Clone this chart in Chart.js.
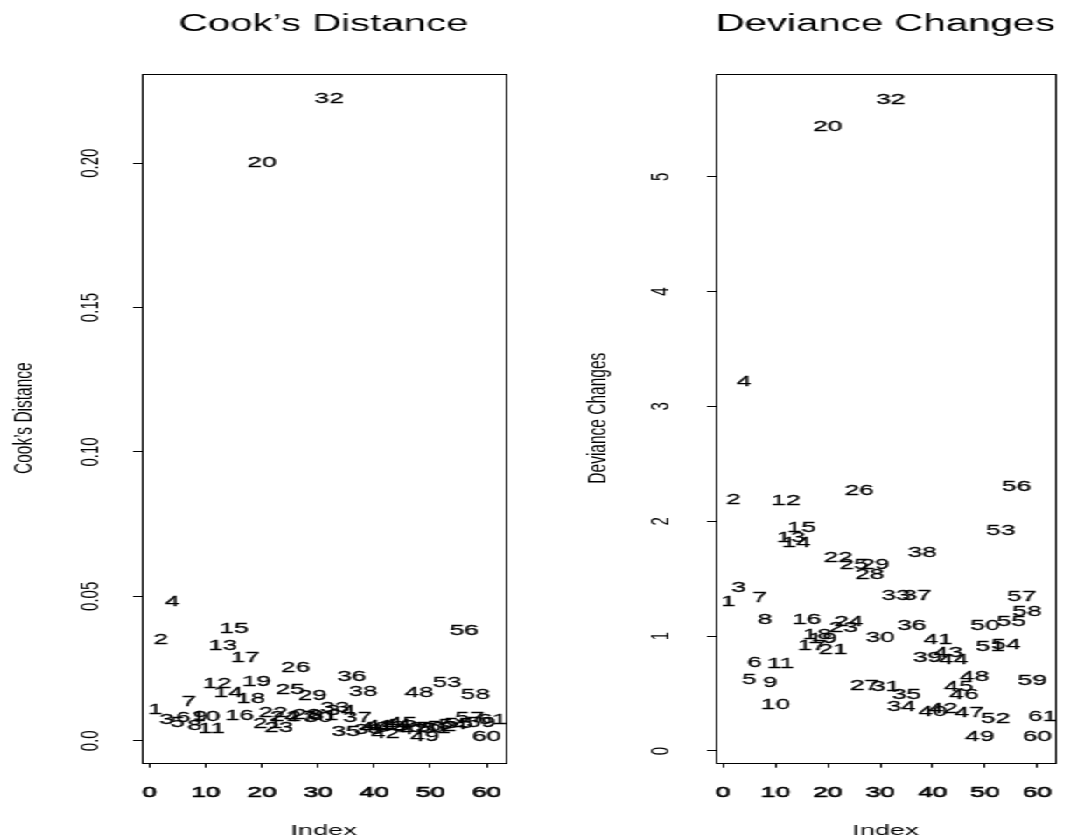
<!DOCTYPE html>
<html>
<head>
<meta charset="utf-8">
<title>Cook's Distance / Deviance Changes</title>
<script src="https://cdn.jsdelivr.net/npm/chart.js@4.4.0/dist/chart.umd.min.js"></script>
<style>
html, body { margin: 0; padding: 0; background: #fff; overflow: hidden; }
/* the original figure is a narrow R plot stretched sideways, so draw narrow and stretch */
#wrap { width: 618px; height: 840px; display: flex; transform: scaleX(1.75); transform-origin: 0 0; }
.panel { position: relative; width: 309px; height: 840px; }
</style>
</head>
<body>
<div id="wrap">
  <div class="panel"><canvas id="cook"></canvas></div>
  <div class="panel"><canvas id="dev"></canvas></div>
</div>
<script>
var obsIndex = [1, 2, 3, 4, 5, 6, 7, 8, 9, 10, 11, 12, 13, 14, 15, 16, 17, 18, 19, 20,
  21, 22, 23, 24, 25, 26, 27, 28, 29, 30, 31, 32, 33, 34, 35, 36, 37, 38, 39, 40,
  41, 42, 43, 44, 45, 46, 47, 48, 49, 50, 51, 52, 53, 54, 55, 56, 57, 58, 59, 60, 61];

var cooksDist = [0.0107, 0.0350, 0.0074, 0.0481, 0.0061, 0.0080, 0.0133, 0.0052, 0.0083, 0.0083,
  0.0040, 0.0197, 0.0330, 0.0165, 0.0388, 0.0086, 0.0288, 0.0145, 0.0205, 0.2002,
  0.0058, 0.0095, 0.0043, 0.0082, 0.0177, 0.0254, 0.0083, 0.0088, 0.0157, 0.0080,
  0.0085, 0.2222, 0.0115, 0.0104, 0.0031, 0.0222, 0.0079, 0.0169, 0.0037, 0.0045,
  0.0050, 0.0025, 0.0048, 0.0055, 0.0062, 0.0045, 0.0038, 0.0167, 0.0012, 0.0045,
  0.0042, 0.0048, 0.0201, 0.0055, 0.0058, 0.0379, 0.0080, 0.0160, 0.0063, 0.0012, 0.0073];

var devChanges = [1.298, 2.183, 1.423, 3.210, 0.623, 0.768, 1.336, 1.139, 0.589, 0.400,
  0.762, 2.174, 1.855, 1.811, 1.945, 1.139, 0.916, 1.009, 0.980, 5.435,
  0.878, 1.684, 1.070, 1.124, 1.617, 2.264, 0.565, 1.536, 1.623, 0.985,
  0.557, 5.668, 1.348, 0.380, 0.487, 1.093, 1.354, 1.724, 0.815, 0.342,
  0.971, 0.363, 0.855, 0.797, 0.554, 0.487, 0.333, 0.646, 0.119, 1.093,
  0.907, 0.284, 1.916, 0.928, 1.125, 2.298, 1.342, 1.209, 0.609, 0.124, 0.293];

var xTicks = [0, 10, 20, 30, 40, 50, 60];
var xTickLabels = ['0', '10', '20', '30', '40', '50', '60'];
var cookTicks = [0, 0.05, 0.10, 0.15, 0.20];
var cookTickLabels = ['0.0', '0.05', '0.10', '0.15', '0.20'];
var devTicks = [0, 1, 2, 3, 4, 5];
var devTickLabels = ['0', '1', '2', '3', '4', '5'];

var FONT = '"Liberation Sans", Arial, Helvetica, sans-serif';
Chart.defaults.font.family = FONT;
Chart.defaults.color = '#000';

// frame round the plot region, like R's box()
var boxPlugin = {
  id: 'plotBox',
  afterDraw: function(chart) {
    var a = chart.chartArea;
    var ctx = chart.ctx;
    ctx.save();
    ctx.strokeStyle = '#000';
    ctx.lineWidth = 1;
    ctx.strokeRect(Math.round(a.left) + 0.5, Math.round(a.top) + 0.5,
      Math.round(a.right - a.left), Math.round(a.bottom - a.top));
    ctx.restore();
  }
};

// each observation is drawn as its index number (text(..., labels = 1:n))
var labelPlugin = {
  id: 'indexLabels',
  afterDatasetsDraw: function(chart) {
    var ctx = chart.ctx;
    var meta = chart.getDatasetMeta(0);
    var pts = chart.data.datasets[0].data;
    ctx.save();
    ctx.font = '15px ' + FONT;
    ctx.fillStyle = '#000';
    ctx.strokeStyle = '#000';
    ctx.lineWidth = 0.3;
    ctx.textAlign = 'center';
    ctx.textBaseline = 'middle';
    meta.data.forEach(function(el, k) {
      ctx.fillText(String(pts[k].x), el.x, el.y);
      ctx.strokeText(String(pts[k].x), el.x, el.y);
    });
    ctx.restore();
  }
};

function makePanel(id, title, yTitle, values, yMin, yMax, yTicks, yTickLabels, boxLeft, padRight, yLabPad, yTitlePad) {
  var pts = obsIndex.map(function(v, k) { return { x: v, y: values[k] }; });
  return new Chart(document.getElementById(id), {
    type: 'scatter',
    data: { datasets: [{ data: pts, pointRadius: 0, pointHoverRadius: 0 }] },
    options: {
      responsive: true,
      maintainAspectRatio: false,
      animation: false,
      events: [],
      layout: { padding: { left: 0, right: padRight, top: 0, bottom: 0 } },
      plugins: {
        legend: { display: false },
        tooltip: { enabled: false },
        title: {
          display: true, text: title, fullSize: false, color: '#000',
          font: { size: 23, weight: 'normal' },
          padding: { top: 11, bottom: 35 }
        }
      },
      scales: {
        x: {
          type: 'linear', min: -1.4, max: 63.4,
          afterBuildTicks: function(s) { s.ticks = xTicks.map(function(v) { return { value: v }; }); },
          afterFit: function(s) { s.height = 77.3; },
          grid: { drawOnChartArea: false, drawTicks: true, tickLength: 5, color: '#000' },
          border: { display: false },
          ticks: {
            color: '#000', font: { size: 15 }, padding: 16, maxRotation: 0, autoSkip: false,
            textStrokeColor: '#000', textStrokeWidth: 0.6,
            callback: function(v, i) { return xTickLabels[i]; }
          },
          title: { display: true, text: 'Index', color: '#000', font: { size: 15.5 }, padding: { top: 0, bottom: 0 } }
        },
        y: {
          type: 'linear', min: yMin, max: yMax,
          afterBuildTicks: function(s) { s.ticks = yTicks.map(function(v) { return { value: v }; }); },
          afterFit: function(s) { s.width = boxLeft; },
          grid: { drawOnChartArea: false, drawTicks: true, tickLength: 5, color: '#000' },
          border: { display: false },
          ticks: {
            color: '#000', font: { size: 15 }, padding: yLabPad, minRotation: 90, maxRotation: 90,
            crossAlign: 'center', autoSkip: false,
            callback: function(v, i) { return yTickLabels[i]; }
          },
          title: { display: true, text: yTitle, color: '#000', font: { size: 15.5 }, padding: { top: yTitlePad, bottom: 0 } }
        }
      }
    },
    plugins: [boxPlugin, labelPlugin]
  });
}

makePanel('cook', 'Cook\u2019s Distance', 'Cook\u2019s Distance', cooksDist,
  -0.0076, 0.2310, cookTicks, cookTickLabels, 81, 20, 9.5, 4.7);
makePanel('dev', 'Deviance Changes', 'Deviance Changes', devChanges,
  -0.102, 5.898, devTicks, devTickLabels, 100, 1.1, 22, 23.7);
</script>
</body>
</html>
